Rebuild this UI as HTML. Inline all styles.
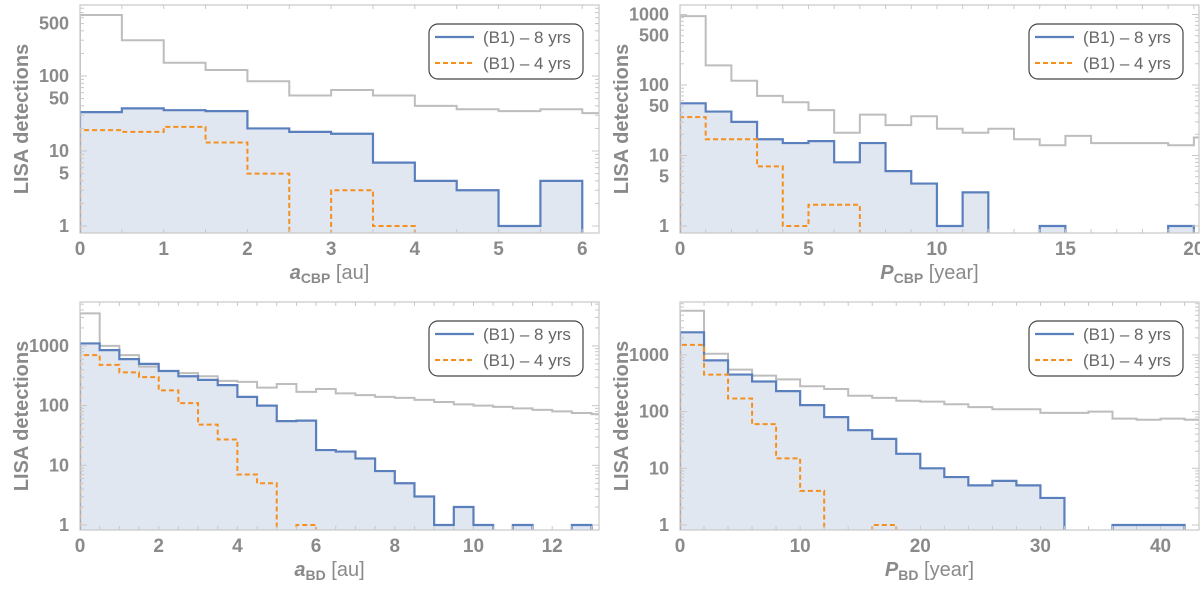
<!DOCTYPE html>
<html><head><meta charset="utf-8"><style>
body{margin:0;background:#fff;width:1200px;height:589px;overflow:hidden;font-family:"Liberation Sans",sans-serif}
svg text{font-family:"Liberation Sans",sans-serif}
</style></head><body>
<svg id="c" width="1200" height="589"></svg>
<script>
// Panel 1: a_CBP
const p1Gray=[650,300,150,120,85,55,65,55,40,36,34,36,32];
const p1Blue=[33,37,35,34,20,18,17,7,4,3,1,4];
const p1Orange=[19,18,21,13,5,0,3,1];
const p1YTicks=[1,5,10,50,100,500];
const p1XTicks=[0,1,2,3,4,5,6];
// Panel 2: P_CBP
const p2Gray=[950,190,115,70,57,44,21,38,27,36,24,21,24,17,14,19,15,15,15,14,18];
const p2Blue=[55,42,30,17,15,16,8,15,6,4,1,3,0,0,1,0,0,0,0,1];
const p2Orange=[35,17,17,7,1,2,2];
const p2YTicks=[1,5,10,50,100,500,1000];
const p2XTicks=[0,5,10,15,20];
// Panel 3: a_BD
const p3Gray=[3500,1000,700,450,380,350,310,260,250,200,230,170,190,160,150,140,135,125,115,105,100,95,90,85,80,75,72];
const p3Blue=[1100,850,600,500,380,310,270,220,140,100,55,56,18,17,13,8,5,3,1,2,1,0,1,0,0,1];
const p3Orange=[700,480,360,300,180,110,48,27,7,5,0,1];
const p3YTicks=[1,10,100,1000];
const p3XTicks=[0,2,4,6,8,10,12];
// Panel 4: P_BD
const p4Gray=[6000,1050,550,430,370,280,250,190,175,155,150,135,120,110,110,95,95,100,75,72,75,72];
const p4Blue=[2500,800,450,340,230,130,80,47,33,18,10,7,5,6,5,3,0,0,1,1,1];
const p4Orange=[1500,450,170,60,15,4,0,0,1];
const p4YTicks=[1,10,100,1000];
const p4XTicks=[0,10,20,30,40];

const NS="http://www.w3.org/2000/svg";
const svg=document.getElementById('c');
function mk(tag,attrs,parent){const e=document.createElementNS(NS,tag);for(const k in attrs)e.setAttribute(k,attrs[k]);(parent||svg).appendChild(e);return e;}

const panels=[
 {id:'p1',L:80,R:599,T:5,B:233,xmax:6.2,bw:0.5,y1:226,dec:75,gray:p1Gray,blue:p1Blue,orange:p1Orange,yt:p1YTicks,xt:p1XTicks,xlab:['a','CBP',' [au]'],minorX:0.5},
 {id:'p2',L:680,R:1199,T:5,B:233,xmax:20.2,bw:1,y1:226,dec:70.5,gray:p2Gray,blue:p2Blue,orange:p2Orange,yt:p2YTicks,xt:p2XTicks,xlab:['P','CBP',' [year]'],minorX:1},
 {id:'p3',L:80,R:599,T:302,B:530,xmax:13.19,bw:0.5,y1:525,dec:59.7,gray:p3Gray,blue:p3Blue,orange:p3Orange,yt:p3YTicks,xt:p3XTicks,xlab:['a','BD',' [au]'],minorX:0.5},
 {id:'p4',L:680,R:1199,T:302,B:530,xmax:43.2,bw:2,y1:525,dec:56.7,gray:p4Gray,blue:p4Blue,orange:p4Orange,yt:p4YTicks,xt:p4XTicks,xlab:['P','BD',' [year]'],minorX:2},
];

panels.forEach((p,pi)=>{
 const g=mk('g',{});
 
 
 const xs=v=>p.L+(p.R-p.L)*v/p.xmax;
 const ys=v=>v<=0?p.B+5:p.y1-p.dec*Math.log10(v);
 const cid='clip'+pi;
 const cp=mk('clipPath',{id:cid},g);mk('rect',{x:p.L,y:p.T,width:p.R-p.L,height:p.B-p.T},cp);
 function step(arr){
  let d='M'+xs(0)+','+(p.B+5);
  arr.forEach((v,i)=>{const y=ys(v);d+=' L'+xs(i*p.bw)+','+y+' L'+xs((i+1)*p.bw)+','+y;});
  d+=' L'+xs(arr.length*p.bw)+','+(p.B+5);return d;
 }
 const fill=mk('path',{d:step(p.blue)+' Z',fill:'#e1e7f1',stroke:'none','clip-path':`url(#${cid})`},g);
 
 
 const gr=mk('path',{d:step(p.gray),fill:'none',stroke:'#bdbdbd','stroke-width':2,'clip-path':`url(#${cid})`},g);
 
 
 const bl=mk('path',{d:step(p.blue),fill:'none',stroke:'#5a7fbd','stroke-width':2.2,'clip-path':`url(#${cid})`},g);
 
 
 const or=mk('path',{d:step(p.orange),fill:'none',stroke:'#f5901e','stroke-width':2,'stroke-dasharray':'5,3','clip-path':`url(#${cid})`},g);
 
 
 const fr=mk('rect',{x:p.L,y:p.T,width:p.R-p.L,height:p.B-p.T,fill:'none',stroke:'#c8c8c8','stroke-width':1.2},g);
 
 
 for(let v=0;v<=p.xmax+1e-9;v+=p.minorX){const x=xs(v);mk('line',{x1:x,x2:x,y1:p.B,y2:p.B-4,stroke:'#c8c8c8'},g);mk('line',{x1:x,x2:x,y1:p.T,y2:p.T+4,stroke:'#c8c8c8'},g);}
 const lo=0.8, hi=Math.pow(10,(p.y1-p.T)/p.dec);
 for(let e=0;e<4;e++)for(let m=1;m<10;m++){const v=m*Math.pow(10,e);if(v<lo||v>hi)continue;const y=ys(v);const len=m===1?7:4;mk('line',{x1:p.L,x2:p.L+len,y1:y,y2:y,stroke:'#c8c8c8'},g);mk('line',{x1:p.R,x2:p.R-len,y1:y,y2:y,stroke:'#c8c8c8'},g);}
 p.xt.forEach(v=>{const t=mk('text',{x:xs(v),y:p.B+22,'text-anchor':'middle','font-size':19,'font-weight':'bold',fill:'#8a8a8a'},g);t.textContent=v;
  
  });
 p.yt.forEach(v=>{const t=mk('text',{x:p.L-11,y:ys(v)+6,'text-anchor':'end','font-size':18,'font-weight':'bold',fill:'#8a8a8a'},g);t.textContent=v;
  
  });
 const yt=mk('text',{x:0,y:0,transform:`translate(${p.L-52},${(p.T+p.B)/2}) rotate(-90)`,'text-anchor':'middle','font-size':20,'font-weight':'bold',fill:'#8a8a8a'},g);yt.textContent='LISA detections';
 
 
 const xt=mk('text',{x:(p.L+p.R)/2-10,y:p.B+46,'text-anchor':'middle','font-size':20,fill:'#8a8a8a'},g);
 
 
 const s1=mk('tspan',{'font-style':'italic','font-weight':'bold'},xt);s1.textContent=p.xlab[0];
 const s2=mk('tspan',{'font-size':14,dy:4,'font-weight':'bold'},xt);s2.textContent=p.xlab[1];
 const s3=mk('tspan',{dy:-4},xt);s3.textContent=p.xlab[2];
 const lx=p.L+349, ly=p.T+19;
 const lg=mk('g',{},g);
 
 
 mk('rect',{x:lx,y:ly,width:154,height:55,rx:9,fill:'#fff',stroke:'#444','stroke-width':1.2},lg);
 mk('line',{x1:lx+6,x2:lx+45,y1:ly+13,y2:ly+13,stroke:'#5a7fbd','stroke-width':2.2},lg);
 mk('line',{x1:lx+6,x2:lx+45,y1:ly+39,y2:ly+39,stroke:'#f5901e','stroke-width':2,'stroke-dasharray':'5,3'},lg);
 const t1=mk('text',{x:lx+54,y:ly+19,'font-size':17,fill:'#666'},lg);t1.textContent='(B1) – 8 yrs';
 
 
 const t2=mk('text',{x:lx+54,y:ly+45,'font-size':17,fill:'#666'},lg);t2.textContent='(B1) – 4 yrs';
 
 
});
</script>
</body></html>
